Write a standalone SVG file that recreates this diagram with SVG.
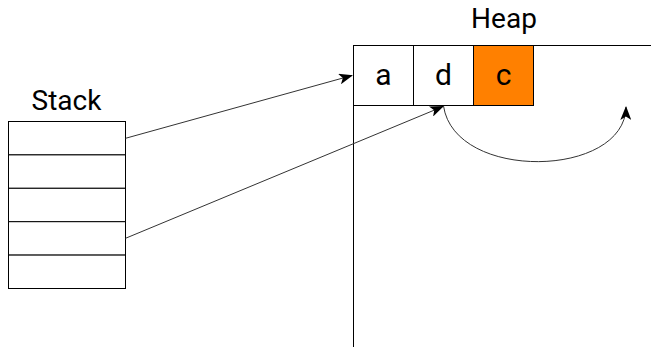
<svg xmlns="http://www.w3.org/2000/svg" width="651" height="347" viewBox="0 0 651 347">
<defs>
<style>
.t{font-family:Roboto,"Liberation Sans",sans-serif;fill:#000;text-anchor:middle}
.lbl{font-size:28px}
.cell{font-size:30px}
.box{fill:#fff;stroke:#000;stroke-width:1}
.ln{fill:none;stroke:#000;stroke-width:1}
.edge{fill:none;stroke:#333;stroke-width:1}
</style>
<marker id="ah" viewBox="0 0 14 11" refX="13" refY="5.5" markerWidth="14" markerHeight="11" markerUnits="userSpaceOnUse" orient="auto">
<path d="M0,0 L14,5.5 L0,11 L3.5,5.5 Z" fill="#000"/>
</marker>
</defs>
<rect width="651" height="347" fill="#fff"/>
<g id="heap">
<text class="t lbl" x="504" y="28">Heap</text>
<path class="ln" d="M353.5,347 V45.5 H651"/>
</g>
<g id="stack">
<text class="t lbl" x="66.5" y="110">Stack</text>
<rect class="box" x="8.5" y="121.5" width="117" height="33.4"/>
<rect class="box" x="8.5" y="154.9" width="117" height="33.4"/>
<rect class="box" x="8.5" y="188.3" width="117" height="33.4"/>
<rect class="box" x="8.5" y="221.7" width="117" height="33.4"/>
<rect class="box" x="8.5" y="255.1" width="117" height="33.4"/>
</g>
<g id="cell-a">
<rect class="box" x="353.5" y="45.5" width="60" height="60"/>
<text class="t cell" x="383.5" y="84.5">a</text>
</g>
<g id="cell-d">
<rect class="box" x="413.5" y="45.5" width="60" height="60"/>
<text class="t cell" x="443.5" y="84.5">d</text>
</g>
<g id="cell-c">
<rect x="473.5" y="45.5" width="60" height="60" fill="#ff8000" stroke="#000" stroke-width="1"/>
<text class="t cell" x="503.5" y="84.5">c</text>
</g>
<g id="connectors">
<path class="edge" d="M125.5,138.3 L352,75.5" marker-end="url(#ah)"/>
<path class="edge" d="M125.5,238.3 L443,106.5" marker-end="url(#ah)"/>
<path class="edge" d="M443.5,106 C455,182 625,178 626,107" marker-end="url(#ah)"/>
</g>
</svg>
